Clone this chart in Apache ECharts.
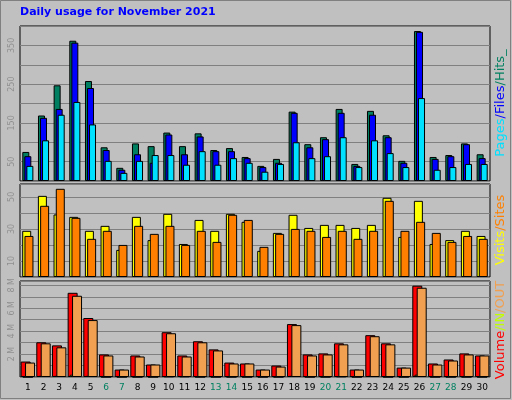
<!DOCTYPE html>
<html><head><meta charset="utf-8">
<script src="https://cdn.jsdelivr.net/npm/echarts@6/dist/echarts.min.js"></script>
<style>html,body{margin:0;padding:0;background:#c0c0c0}#c{width:512px;height:400px}</style>
</head><body><div id="c"></div>
<script>
const days = ['1','2','3','4','5','6','7','8','9','10','11','12','13','14','15','16','17','18','19','20','21','22','23','24','25','26','27','28','29','30'];
const weekend = ['6','7','13','14','20','21','27','28'];
const hits  = [75,169,247,362,258,87,34,97,90,125,90,123,80,85,62,39,57,179,95,113,186,44,181,118,52,387,62,67,97,69];
const files = [64,163,186,357,240,80,29,69,47,120,69,115,77,77,59,36,47,176,87,108,176,39,171,113,47,385,57,64,95,59];
const pages = [39,105,171,204,146,52,21,52,67,67,42,77,42,59,47,24,44,100,59,64,113,36,105,72,36,214,29,36,44,44];
const visits = [28.8,50.6,39,37.5,28.8,31.9,16.9,37.5,23,39.4,20.6,35.6,28.8,39.4,34.4,16.3,27.5,38.8,30.6,32.5,32.5,30.6,32.5,49.4,25,47.5,20.6,23,28.8,25.6];
const sites  = [25.6,44.4,55,36.9,23.8,28.8,20,31.9,26.9,31.9,20,28.8,21.9,38.8,35.6,18.8,26.9,30,28.8,25,28.8,23.8,28.8,47.5,28.8,34.4,27.5,21.9,25.6,23.8];
const volume = [1.35,3.03,2.76,7.35,5.15,1.97,0.65,1.88,1.09,3.91,1.88,3.12,2.41,1.26,1.18,0.65,1.0,4.62,1.97,2.06,2.94,0.65,3.65,2.94,0.82,7.97,1.18,1.53,2.06,1.88];
const volIn  = [0,0.1,0.1,0.2,0.1,0,0,0,0,0.05,0.05,0,0,0,0,0,0,0.1,0,0,0.05,0,0.1,0,0,0.2,0,0,0,0];
const volOut = [1.26,2.94,2.59,7.09,4.97,1.88,0.65,1.79,1.09,3.82,1.79,3.03,2.32,1.18,1.18,0.65,0.91,4.53,1.88,1.97,2.85,0.65,3.56,2.85,0.82,7.79,1.09,1.44,1.97,1.88];
const topLabels = [50,150,250,350];
const midLabels = [10,30,50];
const botLabels = [2,4,6,8];

const chart = echarts.init(document.getElementById('c'));
const L=20, R=22;
const grids = [
  {left:L,right:R,top:26,height:155},
  {left:L,right:R,top:184,height:93},
  {left:L,right:R,top:281,height:96}
].map(g=>Object.assign(g,{show:true,backgroundColor:'#c0c0c0',borderColor:'#000',borderWidth:1}));
function xa(i,show){return {type:'category',gridIndex:i,data:days,axisLine:{show:false},axisTick:{show:false},
  axisLabel:{show:show,margin:6,fontFamily:'DejaVu Sans',fontSize:9,color:(v)=>weekend.includes(v)?'#008060':'#000'}};}
function ya(i,max,interval,labels,suffix){return {type:'value',gridIndex:i,min:0,max:max,interval:interval,
  axisLine:{show:false},axisTick:{show:false},splitLine:{lineStyle:{color:'#808080',width:1}},
  axisLabel:{rotate:90,margin:4,fontFamily:'DejaVu Sans',fontSize:8,color:'#909090',
   formatter:(v)=>labels.includes(Math.round(v*100)/100)?v+suffix:''}};}
function bar(name,data,i,color,w,gap){return {type:'bar',name,data,xAxisIndex:i,yAxisIndex:i,barWidth:w,barGap:gap,
  itemStyle:{color,borderColor:'#000',borderWidth:1},animation:false};}
chart.setOption({
  backgroundColor:'#c0c0c0',
  animation:false,
  grid:grids,
  xAxis:[xa(0,false),xa(1,false),xa(2,true)],
  yAxis:[ya(0,400,50,topLabels,''),ya(1,58,10,midLabels,''),ya(2,8.38,1,botLabels,' M')],
  series:[
    bar('Hits',hits,0,'#008060',7,'-71%'),
    bar('Files',files,0,'#0000ff',7,'-71%'),
    bar('Pages',pages,0,'#00e0ff',7,'-71%'),
    bar('Visits',visits,1,'#ffff00',9,'-75%'),
    bar('Sites',sites,1,'#ff8000',9,'-75%'),
    bar('Volume',volume,2,'#ff0000',10,'-78%'),
    bar('IN',volIn,2,'#ffff00',10,'-78%'),
    bar('OUT',volOut,2,'#f0a050',10,'-78%')
  ],
  graphic:[
    {type:'rect',shape:{x:0.5,y:0.5,width:510,height:398},style:{fill:'none',stroke:'#808080',lineWidth:1}},
    {type:'text',left:20,top:7,style:{text:'Daily usage for November 2021',fill:'#0000ff',font:'bold 11px DejaVu Sans'}},
    {type:'text',x:501,y:103,rotation:Math.PI/2,style:{text:'{a|Pages}{b|/Files}{c|/Hits_}',align:'center',verticalAlign:'middle',
      rich:{a:{fill:'#00e0ff',font:'13px DejaVu Sans'},b:{fill:'#0000ff',font:'13px DejaVu Sans'},c:{fill:'#008060',font:'13px DejaVu Sans'}}}},
    {type:'text',x:501,y:230,rotation:Math.PI/2,style:{text:'{a|Visits}{b|/Sites}',align:'center',verticalAlign:'middle',
      rich:{a:{fill:'#ffff00',font:'13px DejaVu Sans'},b:{fill:'#ff8000',font:'13px DejaVu Sans'}}}},
    {type:'text',x:501,y:330,rotation:Math.PI/2,style:{text:'{a|Volume}{b|/IN}{c|/OUT}',align:'center',verticalAlign:'middle',
      rich:{a:{fill:'#ff0000',font:'13px DejaVu Sans'},b:{fill:'#c0ff00',font:'13px DejaVu Sans'},c:{fill:'#f0a050',font:'13px DejaVu Sans'}}}}
  ]
});
</script></body></html>
